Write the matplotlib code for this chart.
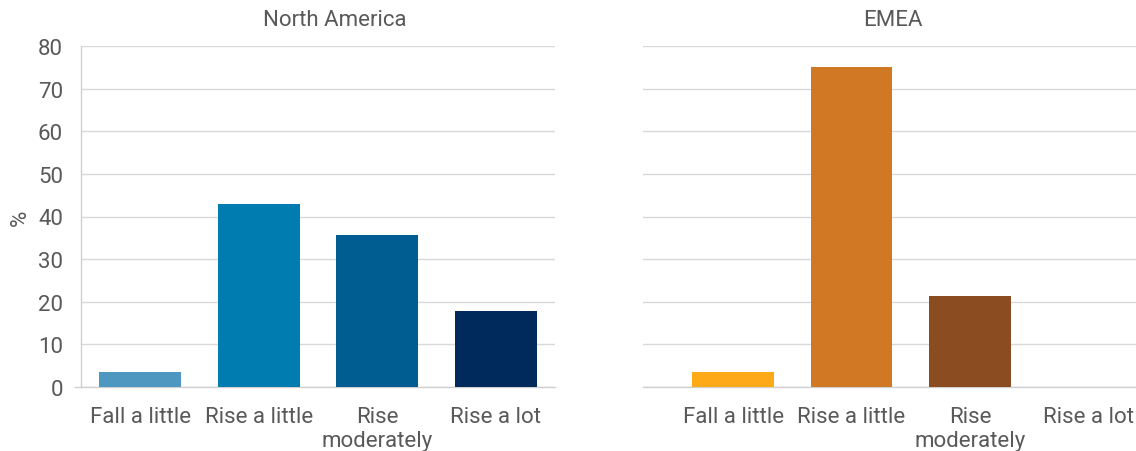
import matplotlib
matplotlib.use("Agg")
import matplotlib.pyplot as plt

categories = ["Fall a little", "Rise a little", "Rise\nmoderately", "Rise a lot"]
north_america = [3.6, 42.9, 35.7, 17.9]
emea = [3.6, 75.0, 21.4, 0.0]
na_colors = ["#4E97C1", "#007CB0", "#005D92", "#002A5C"]
emea_colors = ["#FDA918", "#D17825", "#8A4C20", "#8A4C20"]
y_ticks = [0, 10, 20, 30, 40, 50, 60, 70, 80]

TEXT = "#595959"
GRID = "#D9D9D9"
FONT = "Roboto"
FS = 16

plt.rcParams["font.family"] = FONT

W, H = 1136, 452
fig = plt.figure(figsize=(W / 100, H / 100), dpi=100)

def px_axes(x0, x1, y_top, y_bot):
    return fig.add_axes([x0 / W, (H - y_bot) / H, (x1 - x0) / W, (y_bot - y_top) / H])

ax_na = px_axes(81, 555, 47, 388)
ax_em = px_axes(643, 1136, 47, 388)

def style(ax, xlim, show_y):
    x = list(range(len(categories)))
    ax.set_xlim(*xlim)
    ax.set_ylim(0, 80)
    ax.set_yticks(y_ticks)
    ax.set_xticks(x)
    ax.set_xticklabels(categories, fontsize=FS, color=TEXT, linespacing=1.15)
    ax.yaxis.grid(True, color=GRID, linewidth=1.0)
    ax.set_axisbelow(True)
    for s in ("top", "right"):
        ax.spines[s].set_visible(False)
    ax.spines["bottom"].set_color("#D0D0D0")
    ax.spines["bottom"].set_linewidth(1.0)
    ax.tick_params(axis="x", length=0, pad=14)
    ax.tick_params(axis="y", length=0, pad=13, labelsize=FS, labelcolor=TEXT)
    if show_y:
        ax.spines["left"].set_color("#D0D0D0")
        ax.spines["left"].set_linewidth(1.0)
        ax.plot([-6 / 474, 0], [0, 0], transform=ax.transAxes, color="#D0D0D0",
                linewidth=1.0, clip_on=False)
    else:
        ax.spines["left"].set_visible(False)
        ax.tick_params(axis="y", labelleft=False)

x = list(range(len(categories)))
ax_na.bar(x, north_america, width=0.69, color=na_colors, zorder=3)
ax_em.bar(x, emea, width=0.69, color=emea_colors, zorder=3)

style(ax_na, (-0.5, 3.5), True)
style(ax_em, (-0.76, 3.40), False)

ax_na.set_ylabel("%", fontsize=FS, color=TEXT, labelpad=5)

fig.text(335 / W, 1 - 21 / H, "North America", ha="center", va="center",
         fontsize=FS, color=TEXT)
fig.text(893 / W, 1 - 21 / H, "EMEA", ha="center", va="center",
         fontsize=FS, color=TEXT)

fig.savefig("out.png", dpi=100, facecolor="white")
